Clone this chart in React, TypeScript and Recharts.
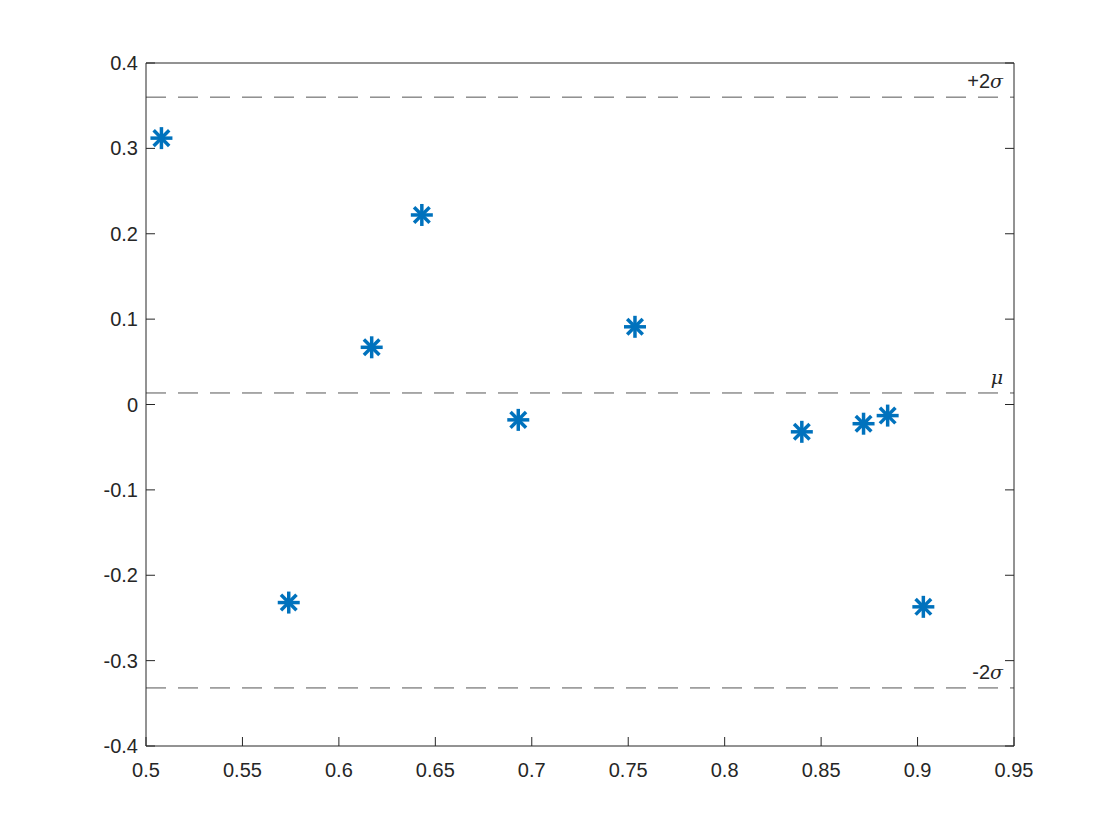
import React from 'react'
import { ScatterChart, Scatter, XAxis, YAxis, ReferenceLine } from 'recharts'

// valores
const xValues = [0.508, 0.574, 0.617, 0.643, 0.693, 0.7535, 0.840, 0.872, 0.8845, 0.903]
const yValues = [0.312, -0.232, 0.067, 0.222, -0.018, 0.091, -0.032, -0.0225, -0.013, -0.237]

const xTicks = [0.5, 0.55, 0.6, 0.65, 0.7, 0.75, 0.8, 0.85, 0.9, 0.95]
const xTickLabels = ['0.5', '0.55', '0.6', '0.65', '0.7', '0.75', '0.8', '0.85', '0.9', '0.95']
const yTicks = [-0.4, -0.3, -0.2, -0.1, 0, 0.1, 0.2, 0.3, 0.4]
const yTickLabels = ['-0.4', '-0.3', '-0.2', '-0.1', '0', '0.1', '0.2', '0.3', '0.4']

// líneas de referencia: media y ±2 sigma
const refValues = [0.36, 0.0135, -0.332]
const refPrefixes = ['+2', '', '-2']
const refSymbols = ['σ', 'μ', 'σ']

const points = xValues.map((x, i) => ({ x, y: yValues[i] }))

const AXIS_COLOR = '#262626'
const BLUE = '#0072BD'
const TICK_LEN = 9
const FONT = '"Liberation Sans", Arial, Helvetica, sans-serif'

const fmt = (v: number, values: number[], labels: string[]) => {
  const i = values.findIndex((t) => Math.abs(t - v) < 1e-9)
  return i >= 0 ? labels[i] : String(v)
}

const BottomTick = ({ x, y, payload }: any) => (
  <g>
    <line x1={x} y1={y} x2={x} y2={y - TICK_LEN} stroke={AXIS_COLOR} strokeWidth={1} />
    <text x={x} y={y + 31} textAnchor="middle" fill={AXIS_COLOR} fontSize={20} fontFamily={FONT}>
      {fmt(payload.value, xTicks, xTickLabels)}
    </text>
  </g>
)

const TopTick = ({ x, y }: any) => (
  <line x1={x} y1={y} x2={x} y2={y + TICK_LEN} stroke={AXIS_COLOR} strokeWidth={1} />
)

const LeftTick = ({ x, y, payload }: any) => (
  <g>
    <line x1={x} y1={y} x2={x + TICK_LEN} y2={y} stroke={AXIS_COLOR} strokeWidth={1} />
    <text x={x - 8} y={y + 7} textAnchor="end" fill={AXIS_COLOR} fontSize={20} fontFamily={FONT}>
      {fmt(payload.value, yTicks, yTickLabels)}
    </text>
  </g>
)

const RightTick = ({ x, y }: any) => (
  <line x1={x} y1={y} x2={x - TICK_LEN} y2={y} stroke={AXIS_COLOR} strokeWidth={1} />
)

// marcador tipo asterisco (*) como en MATLAB
const Asterisk = ({ cx, cy }: any) => {
  const r = 11
  const d = r * Math.SQRT1_2
  return (
    <g stroke={BLUE} strokeWidth={3.5}>
      <line x1={cx - r} y1={cy} x2={cx + r} y2={cy} />
      <line x1={cx} y1={cy - r} x2={cx} y2={cy + r} />
      <line x1={cx - d} y1={cy - d} x2={cx + d} y2={cy + d} />
      <line x1={cx - d} y1={cy + d} x2={cx + d} y2={cy - d} />
    </g>
  )
}

const refLabel = (prefix: string, symbol: string) => (props: any) => {
  const vb = props.viewBox
  return (
    <text
      x={vb.x + vb.width - 11}
      y={vb.y - 9}
      textAnchor="end"
      fill={AXIS_COLOR}
      fontSize={20}
      fontFamily={FONT}
    >
      {prefix}
      <tspan fontFamily='"DejaVu Serif", "Liberation Serif", serif' fontStyle="italic" fontSize={19}>
        {symbol}
      </tspan>
    </text>
  )
}

export default function App() {
  return (
    <div style={{ width: 1104, height: 824, background: '#fff' }}>
      <ScatterChart
        width={1104}
        height={824}
        margin={{ top: 54, right: 97, bottom: 46, left: 78 }}
      >
        <XAxis
          xAxisId="bottom"
          type="number"
          dataKey="x"
          domain={[0.5, 0.95]}
          ticks={xTicks}
          allowDataOverflow
          height={40}
          tickSize={0}
          tickMargin={0}
          tickLine={false}
          axisLine={{ stroke: AXIS_COLOR, strokeWidth: 1 }}
          tick={<BottomTick />}
          interval={0}
        />
        <XAxis
          xAxisId="top"
          orientation="top"
          type="number"
          domain={[0.5, 0.95]}
          ticks={xTicks}
          allowDataOverflow
          height={1}
          tickSize={0}
          tickMargin={0}
          tickLine={false}
          axisLine={{ stroke: AXIS_COLOR, strokeWidth: 1 }}
          tick={<TopTick />}
          interval={0}
        />
        <YAxis
          yAxisId="left"
          type="number"
          dataKey="y"
          domain={[-0.4, 0.4]}
          ticks={yTicks}
          allowDataOverflow
          width={60}
          tickSize={0}
          tickMargin={0}
          tickLine={false}
          axisLine={{ stroke: AXIS_COLOR, strokeWidth: 1 }}
          tick={<LeftTick />}
          interval={0}
        />
        <YAxis
          yAxisId="right"
          orientation="right"
          type="number"
          domain={[-0.4, 0.4]}
          ticks={yTicks}
          allowDataOverflow
          width={1}
          tickSize={0}
          tickMargin={0}
          tickLine={false}
          axisLine={{ stroke: AXIS_COLOR, strokeWidth: 1 }}
          tick={<RightTick />}
          interval={0}
        />
        {refValues.map((v, i) => (
          <ReferenceLine
            key={`ref-${i}`}
            xAxisId="bottom"
            yAxisId="left"
            y={v}
            stroke="#555555"
            strokeWidth={1}
            strokeDasharray="20 12"
            label={refLabel(refPrefixes[i], refSymbols[i])}
          />
        ))}
        <Scatter
          xAxisId="bottom"
          yAxisId="left"
          data={points}
          shape={<Asterisk />}
          isAnimationActive={false}
        />
      </ScatterChart>
    </div>
  )
}
